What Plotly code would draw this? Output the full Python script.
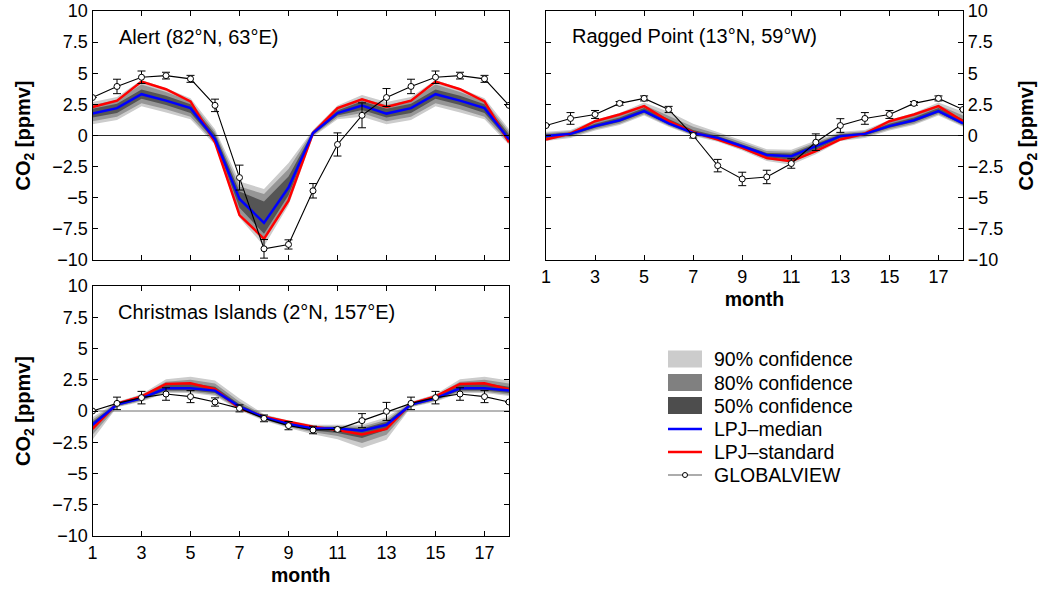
import plotly.graph_objects as go

months = list(range(1, 19))
x_ticks = [1, 3, 5, 7, 9, 11, 13, 15, 17]
y_ticks = [-10, -7.5, -5, -2.5, 0, 2.5, 5, 7.5, 10]

# ---------------- Alert (82N, 63E) ----------------
alert_gv = [3.05, 3.94, 4.68, 4.81, 4.55, 2.42, -3.38, -9.10, -8.75, -4.44, -0.72, 1.62,
            3.05, 3.94, 4.68, 4.81, 4.55, 2.42]
alert_gv_err = [0, 0.58, 0.50, 0.27, 0.28, 0.50, 1.00, 0.75, 0.37, 0.58, 0.93, 1.00,
                0.72, 0.58, 0.50, 0.27, 0.28, 0]
alert_med = [1.76, 2.20, 3.32, 2.80, 2.20, -0.30, -5.10, -7.02, -4.18, 0.20, 1.80, 2.40,
             1.76, 2.20, 3.32, 2.80, 2.20, -0.30]
alert_std = [2.29, 2.80, 4.33, 3.72, 2.74, -0.55, -6.40, -8.30, -5.24, 0.20, 2.20, 2.90,
             2.29, 2.80, 4.33, 3.72, 2.74, -0.55]
alert_p90_lo = [0.90, 1.25, 2.35, 1.85, 1.30, -0.75, -6.60, -8.90, -5.60, -0.10, 1.30, 1.50,
                0.90, 1.25, 2.35, 1.85, 1.30, -0.75]
alert_p90_hi = [2.70, 3.10, 4.45, 3.80, 3.00, 0.50, -3.70, -4.30, -2.20, 0.45, 2.40, 3.25,
                2.70, 3.10, 4.45, 3.80, 3.00, 0.50]
alert_p80_lo = [1.15, 1.50, 2.60, 2.10, 1.50, -0.60, -6.20, -8.40, -5.20, 0.00, 1.45, 1.80,
                1.15, 1.50, 2.60, 2.10, 1.50, -0.60]
alert_p80_hi = [2.45, 2.85, 4.10, 3.50, 2.75, 0.30, -4.10, -4.70, -2.70, 0.38, 2.20, 3.00,
                2.45, 2.85, 4.10, 3.50, 2.75, 0.30]
alert_p50_lo = [1.45, 1.80, 2.95, 2.45, 1.80, -0.45, -5.80, -7.90, -4.80, 0.08, 1.60, 2.05,
                1.45, 1.80, 2.95, 2.45, 1.80, -0.45]
alert_p50_hi = [2.15, 2.55, 3.70, 3.20, 2.50, 0.10, -4.50, -5.30, -3.30, 0.30, 2.00, 2.75,
                2.15, 2.55, 3.70, 3.20, 2.50, 0.10]

# ---------------- Ragged Point (13N, 59W) ----------------
rp_gv = [0.80, 1.37, 1.69, 2.58, 2.98, 2.09, 0.00, -2.42, -3.49, -3.33, -2.25, -0.54,
         0.80, 1.37, 1.69, 2.58, 2.98, 2.09]
rp_gv_err = [0, 0.47, 0.32, 0.15, 0.20, 0.25, 0.20, 0.50, 0.54, 0.54, 0.38, 0.67,
             0.55, 0.47, 0.32, 0.15, 0.20, 0]
rp_med = [-0.05, 0.13, 0.75, 1.23, 1.96, 0.97, 0.20, -0.19, -0.86, -1.56, -1.66, -0.86,
          -0.05, 0.13, 0.75, 1.23, 1.96, 0.97]
rp_std = [-0.32, 0.16, 1.15, 1.69, 2.36, 1.15, 0.27, -0.32, -0.99, -1.80, -2.07, -1.26,
          -0.32, 0.16, 1.15, 1.69, 2.36, 1.15]
rp_p90_lo = [-0.45, -0.20, 0.40, 0.85, 1.60, 0.70, -0.05, -0.50, -1.20, -2.05, -2.35, -1.50,
             -0.45, -0.20, 0.40, 0.85, 1.60, 0.70]
rp_p90_hi = [0.30, 0.45, 1.25, 1.80, 2.65, 1.90, 0.95, 0.30, -0.40, -1.10, -1.15, -0.40,
             0.30, 0.45, 1.25, 1.80, 2.65, 1.90]
rp_p80_lo = [-0.35, -0.10, 0.50, 0.95, 1.70, 0.78, 0.03, -0.40, -1.10, -1.90, -2.15, -1.35,
             -0.35, -0.10, 0.50, 0.95, 1.70, 0.78]
rp_p80_hi = [0.20, 0.35, 1.10, 1.65, 2.45, 1.60, 0.70, 0.12, -0.55, -1.25, -1.30, -0.55,
             0.20, 0.35, 1.10, 1.65, 2.45, 1.60]
rp_p50_lo = [-0.20, 0.00, 0.62, 1.08, 1.82, 0.88, 0.12, -0.30, -0.98, -1.75, -1.95, -1.15,
             -0.20, 0.00, 0.62, 1.08, 1.82, 0.88]
rp_p50_hi = [0.10, 0.25, 0.95, 1.45, 2.20, 1.30, 0.45, -0.05, -0.70, -1.40, -1.45, -0.70,
             0.10, 0.25, 0.95, 1.45, 2.20, 1.30]

# ---------------- Christmas Islands (2N, 157E) ----------------
ci_gv = [0.00, 0.61, 1.07, 1.36, 1.15, 0.72, 0.21, -0.59, -1.17, -1.52, -1.47, -0.77,
         -0.03, 0.61, 1.07, 1.36, 1.15, 0.72]
ci_gv_err = [0, 0.50, 0.50, 0.50, 0.48, 0.33, 0.28, 0.27, 0.33, 0.30, 0.15, 0.56,
             0.72, 0.50, 0.50, 0.50, 0.48, 0]
ci_med = [-1.10, 0.52, 1.01, 1.82, 1.82, 1.63, 0.35, -0.51, -1.04, -1.39, -1.39, -1.58,
          -1.10, 0.52, 1.01, 1.82, 1.82, 1.63]
ci_std = [-1.43, 0.60, 1.17, 2.16, 2.22, 1.74, 0.21, -0.45, -0.85, -1.25, -1.52, -1.87,
          -1.43, 0.60, 1.17, 2.16, 2.22, 1.74]
ci_p90_lo = [-2.30, 0.30, 0.75, 1.45, 1.45, 1.20, 0.05, -0.78, -1.35, -1.85, -2.25, -2.95,
             -2.30, 0.30, 0.75, 1.45, 1.45, 1.20]
ci_p90_hi = [-0.50, 0.75, 1.35, 2.55, 2.75, 2.45, 1.00, -0.25, -0.75, -1.10, -1.10, -1.10,
             -0.50, 0.75, 1.35, 2.55, 2.75, 2.45]
ci_p80_lo = [-1.90, 0.35, 0.82, 1.55, 1.55, 1.30, 0.12, -0.70, -1.28, -1.70, -2.00, -2.55,
             -1.90, 0.35, 0.82, 1.55, 1.55, 1.30]
ci_p80_hi = [-0.70, 0.68, 1.25, 2.35, 2.50, 2.20, 0.75, -0.32, -0.82, -1.20, -1.20, -1.25,
             -0.70, 0.68, 1.25, 2.35, 2.50, 2.20]
ci_p50_lo = [-1.50, 0.42, 0.90, 1.65, 1.65, 1.45, 0.22, -0.62, -1.18, -1.55, -1.75, -2.15,
             -1.50, 0.42, 0.90, 1.65, 1.65, 1.45]
ci_p50_hi = [-0.85, 0.62, 1.15, 2.15, 2.25, 1.95, 0.55, -0.40, -0.90, -1.28, -1.28, -1.40,
             -0.85, 0.62, 1.15, 2.15, 2.25, 1.95]

station_labels = ["Alert (82°N, 63°E)", "Ragged Point (13°N, 59°W)",
                  "Christmas Islands (2°N, 157°E)"]
legend_labels = ["90% confidence", "80% confidence", "50% confidence",
                 "LPJ\u2013median", "LPJ\u2013standard", "GLOBALVIEW"]

C90, C80, C50 = "rgb(204,204,204)", "rgb(150,150,150)", "rgb(85,85,85)"
BLUE, RED = "rgb(0,0,255)", "rgb(255,0,0)"
FONT = "Liberation Sans, Arial, sans-serif"

W, H = 1043, 590
def px_x(p):
    return p / W
def px_y(p):
    return 1 - p / H

stations = [
    dict(gv=alert_gv, err=alert_gv_err, med=alert_med, std=alert_std,
         bands=[(alert_p90_lo, alert_p90_hi, C90), (alert_p80_lo, alert_p80_hi, C80),
                (alert_p50_lo, alert_p50_hi, C50)], xa="x", ya="y"),
    dict(gv=rp_gv, err=rp_gv_err, med=rp_med, std=rp_std,
         bands=[(rp_p90_lo, rp_p90_hi, C90), (rp_p80_lo, rp_p80_hi, C80),
                (rp_p50_lo, rp_p50_hi, C50)], xa="x2", ya="y2"),
    dict(gv=ci_gv, err=ci_gv_err, med=ci_med, std=ci_std,
         bands=[(ci_p90_lo, ci_p90_hi, C90), (ci_p80_lo, ci_p80_hi, C80),
                (ci_p50_lo, ci_p50_hi, C50)], xa="x3", ya="y3"),
]

fig = go.Figure()
for i, st in enumerate(stations):
    for lo, hi, col in st["bands"]:
        fig.add_trace(go.Scatter(x=months + months[::-1], y=hi + lo[::-1], fill="toself",
                                 fillcolor=col, line=dict(width=0), mode="lines",
                                 hoverinfo="skip", showlegend=False,
                                 xaxis=st["xa"], yaxis=st["ya"]))
    zc = "rgb(40,40,40)" if i < 2 else "rgb(110,110,110)"
    fig.add_trace(go.Scatter(x=[months[0], months[-1]], y=[0, 0], mode="lines",
                             line=dict(color=zc, width=1), showlegend=False,
                             hoverinfo="skip", xaxis=st["xa"], yaxis=st["ya"]))
    fig.add_trace(go.Scatter(x=months, y=st["std"], mode="lines", line=dict(color=RED, width=2.5),
                             showlegend=False, xaxis=st["xa"], yaxis=st["ya"]))
    fig.add_trace(go.Scatter(x=months, y=st["med"], mode="lines", line=dict(color=BLUE, width=2.5),
                             showlegend=False, xaxis=st["xa"], yaxis=st["ya"]))
    fig.add_trace(go.Scatter(x=months, y=st["gv"], mode="lines+markers",
                             line=dict(color="black", width=1.1),
                             marker=dict(size=6, color="white", line=dict(color="black", width=1)),
                             error_y=dict(type="data", array=st["err"], color="black",
                                          thickness=1, width=4),
                             showlegend=False, xaxis=st["xa"], yaxis=st["ya"]))

tickfont = dict(family=FONT, size=18, color="black")
def xax(dom, anchor, labels, title=None):
    d = dict(domain=dom, anchor=anchor, range=[1, 18], tickvals=x_ticks, ticks="inside",
             ticklen=5, tickcolor="black", showline=True, linecolor="black", linewidth=1.2,
             mirror="ticks", showgrid=False, zeroline=False, showticklabels=labels,
             tickfont=tickfont)
    if title:
        d["title"] = dict(text="<b>%s</b>" % title, font=dict(family=FONT, size=19.5, color="black"),
                          standoff=6)
    return d

def yax(dom, anchor, side="left"):
    return dict(domain=dom, anchor=anchor, range=[-10, 10], tickvals=y_ticks, ticks="inside",
                ticklen=5, tickcolor="black", showline=True, linecolor="black", linewidth=1.2,
                mirror="ticks", showgrid=False, zeroline=False, side=side, tickfont=tickfont,
                title=dict(text="<b>CO<sub>2</sub> [ppmv]</b>",
                           font=dict(family=FONT, size=20, color="black"), standoff=16))

dx1 = [px_x(92.5), px_x(509)]
dx2 = [px_x(546), px_x(963)]
dy_top = [px_y(260), px_y(11)]
dy_bot = [px_y(536), px_y(286)]

annotations = [
    dict(text=station_labels[0], x=px_x(117), y=px_y(37), xref="paper", yref="paper",
         xanchor="left", yanchor="middle", showarrow=False,
         font=dict(family=FONT, size=20, color="black")),
    dict(text=station_labels[1], x=px_x(570), y=px_y(36), xref="paper", yref="paper",
         xanchor="left", yanchor="middle", showarrow=False,
         font=dict(family=FONT, size=20, color="black")),
    dict(text=station_labels[2], x=px_x(116), y=px_y(312), xref="paper", yref="paper",
         xanchor="left", yanchor="middle", showarrow=False,
         font=dict(family=FONT, size=20, color="black")),
]

shapes = []
row_y = [359, 382.5, 405.5, 429, 452, 475]
sx0, sx1 = 668, 702
for k, col in enumerate([C90, "rgb(128,128,128)", "rgb(77,77,77)"]):
    shapes.append(dict(type="rect", xref="paper", yref="paper",
                       x0=px_x(sx0), x1=px_x(sx1), y0=px_y(row_y[k] + 8.5), y1=px_y(row_y[k] - 8.5),
                       fillcolor=col, line=dict(width=0)))
shapes.append(dict(type="line", xref="paper", yref="paper", x0=px_x(sx0), x1=px_x(sx1),
                   y0=px_y(row_y[3]), y1=px_y(row_y[3]), line=dict(color=BLUE, width=2.5)))
shapes.append(dict(type="line", xref="paper", yref="paper", x0=px_x(sx0), x1=px_x(sx1),
                   y0=px_y(row_y[4]), y1=px_y(row_y[4]), line=dict(color=RED, width=2.5)))
shapes.append(dict(type="line", xref="paper", yref="paper", x0=px_x(sx0), x1=px_x(sx1),
                   y0=px_y(row_y[5]), y1=px_y(row_y[5]), line=dict(color="rgb(90,90,90)", width=1.2)))
shapes.append(dict(type="circle", xref="paper", yref="paper", x0=px_x(682.5), x1=px_x(687.5),
                   y0=px_y(row_y[5] + 2.5), y1=px_y(row_y[5] - 2.5), fillcolor="white",
                   line=dict(color="black", width=1)))
for k, lab in enumerate(legend_labels):
    annotations.append(dict(text=lab, x=px_x(712), y=px_y(row_y[k]), xref="paper", yref="paper",
                            xanchor="left", yanchor="middle", showarrow=False,
                            font=dict(family=FONT, size=19.5, color="black")))

fig.update_layout(
    width=W, height=H, margin=dict(l=0, r=0, t=0, b=0, autoexpand=False),
    paper_bgcolor="white", plot_bgcolor="white", showlegend=False,
    xaxis=xax(dx1, "y", False),
    yaxis=yax(dy_top, "x"),
    xaxis2=xax(dx2, "y2", True, "month"),
    yaxis2=yax(dy_top, "x2", "right"),
    xaxis3=xax(dx1, "y3", True, "month"),
    yaxis3=yax(dy_bot, "x3"),
    annotations=annotations, shapes=shapes,
)

fig.write_html("out.html")
